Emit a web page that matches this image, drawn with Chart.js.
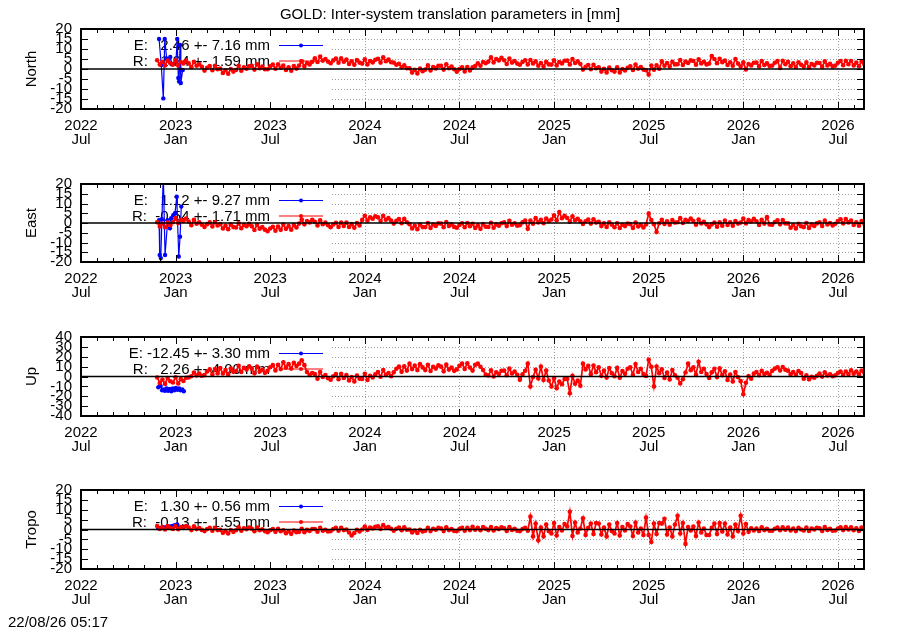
<!DOCTYPE html>
<html><head><meta charset="utf-8">
<script src="https://cdn.jsdelivr.net/npm/chart.js@4/dist/chart.umd.min.js"></script>
<style>
html,body{margin:0;padding:0;background:#fff;}
#wrap{position:relative;width:900px;height:630px;overflow:hidden;background:#fff;}
#wrap canvas{position:absolute;left:0;top:0;}
#stamp{position:absolute;left:8px;top:613px;font:15px "Liberation Sans",Arial,sans-serif;color:#000;white-space:pre;}
</style></head><body>
<div id="wrap">
<canvas id="c0" width="900" height="630"></canvas>
<canvas id="c1" width="900" height="630"></canvas>
<canvas id="c2" width="900" height="630"></canvas>
<canvas id="c3" width="900" height="630"></canvas>
<div id="stamp"></div>
</div>
<script>
// ---------- text ----------
const titleText = 'GOLD: Inter-system translation parameters in [mm]';
const stampText = '22/08/26 05:17';
const panelNames = ['North', 'East', 'Up', 'Tropo'];

// ---------- x axis (months since 2022 Jul) ----------
const xTickMonths = [0, 6, 12, 18, 24, 30, 36, 42, 48];
const xTickLabels = [['2022','Jul'],['2023','Jan'],['2023','Jul'],['2024','Jan'],['2024','Jul'],['2025','Jan'],['2025','Jul'],['2026','Jan'],['2026','Jul']];
const xMaxMonth = 49.65;
const xMinorStep = 1;

// ---------- y axes ----------
const yLimits = [20, 20, 40, 20];
const yStepSizes = [5, 5, 10, 5];

// ---------- legend statistics ----------
const legendE = [[2.46, 7.16], [1.12, 9.27], [-12.45, 3.30], [1.30, 0.56]];
const legendR = [[1.94, 1.59], [-0.54, 1.71], [2.26, 4.00], [-0.13, 1.55]];

// ---------- R series (regular sampling: start month + step) ----------
const rStartMonth = 4.83;
const rStepMonth = 1 / 6;

const northR = [
4.4,2.2,3.6,1.8,4.2,2.9, 2.2,4.3,1.8,3.5,2.8,4.1, 2.8,0.9,3.6,1.6,2.4,1.1, -0.8,0.6,1.5,-0.6,1.6,-0.1,
0.2,-2.0,-0.6,-2.4,0.0,-1.3, -0.5,1.6,-0.9,0.8,0.1,1.4, 1.6,-0.3,2.4,0.4,1.2,-0.1, -0.1,1.3,2.2,0.1,2.3,0.6,
1.7,-0.5,0.9,-0.9,1.5,0.2, 1.7,3.8,1.3,3.0,2.3,3.6, 5.4,3.5,6.2,4.2,5.0,3.7, 2.9,4.3,5.2,3.1,5.3,3.6,
4.7,2.5,3.9,2.1,4.5,3.2, 2.7,4.8,2.3,4.0,3.3,4.6, 5.1,3.2,5.9,3.9,4.7,3.4, 3.2,2.1,2.6,0.9,1.8,0.4,
0.4,-1.8,-0.4,-2.2,0.2,-1.1, -0.3,1.8,-0.7,1.0,0.3,1.6, 1.6,-0.3,2.4,0.4,1.2,-0.1, -1.4,0.0,0.9,-1.2,1.0,-0.7,
0.8,1.5,2.9,1.6,3.5,2.9, 3.7,5.8,3.3,5.0,4.3,5.6, 4.4,2.5,5.2,3.2,4.0,2.7, 2.1,3.5,4.4,2.3,4.5,2.8,
3.8,1.6,3.0,1.2,3.6,2.3, 2.2,4.3,1.8,3.5,2.8,4.1, 4.2,2.3,5.0,3.0,3.8,2.5, -0.3,1.1,2.0,-0.1,2.1,0.4,
0.9,-1.3,0.1,-1.7,0.7,-0.6, -1.3,0.8,-1.7,0.0,-0.7,0.6, 1.4,-0.5,2.2,0.2,1.0,-0.3, -0.6,-2.8,1.7,-0.4,1.8,0.1,
3.8,1.6,3.0,1.2,3.6,2.3, 2.4,4.5,2.0,3.7,3.0,4.3, 4.0,2.1,4.8,2.8,3.6,2.3, 2.7,6.5,5.0,2.9,5.1,3.4,
4.2,2.0,3.4,1.6,5.0,2.7, 1.2,3.3,-0.2,2.5,1.8,3.1, 3.2,1.3,4.0,2.0,2.8,1.5, 1.7,3.1,4.0,0.5,4.1,2.4,
3.6,1.4,2.8,1.0,3.4,2.1, 1.2,3.3,0.8,2.5,1.8,3.1, 3.0,1.1,3.8,1.8,2.6,1.3, 1.7,3.1,4.0,1.9,4.1,2.4,
4.0,1.8,3.2,1.4,3.8,2.5
];

const eastR = [
0.4,-1.8,-0.4,-2.2,0.2,-1.1, 0.4,2.5,0.0,1.7,1.0,2.3, 0.8,-1.1,1.6,-0.4,0.4,-0.9, -2.0,-0.6,0.3,-1.8,0.4,-1.3,
-0.6,-2.8,-1.4,-3.2,-0.8,-2.1, -2.3,-0.2,-2.7,-1.0,-1.7,-0.4, -1.7,-3.6,-0.9,-2.9,-2.1,-3.4, -4.2,-2.8,-1.9,-4.0,-1.8,-3.5,
-0.8,-3.0,-1.6,-3.4,-1.0,-2.3, -0.3,1.8,-0.7,1.0,0.3,1.6, 0.6,-1.3,1.4,-0.6,0.2,-1.1, -2.2,-0.8,0.1,-2.0,0.2,-1.5,
0.2,-2.0,-0.6,-2.4,0.0,-1.3, 1.6,3.7,1.2,2.9,2.2,3.5, 2.9,1.0,3.7,1.7,2.5,1.2, -0.3,1.1,2.0,-0.1,2.1,0.4,
-0.6,-2.8,-1.4,-3.2,-0.8,-2.1, -2.1,0.0,-2.5,-0.8,-1.5,-0.2, -0.3,-2.2,0.5,-1.5,-0.7,-2.0, -2.4,-1.0,-0.1,-2.2,0.0,-1.7,
-0.4,-2.6,-1.2,-3.0,-0.6,-1.9, -2.0,0.1,-2.4,-0.7,-1.4,-0.1, 0.3,-1.6,1.1,-0.9,-0.1,-1.4, -1.1,0.3,1.2,-3.0,1.3,-0.4,
2.5,0.3,1.7,-0.1,2.3,1.0, 1.8,3.9,1.4,5.6,2.4,3.7, 2.6,0.7,3.4,1.4,2.2,0.9, -0.5,0.9,1.8,-0.3,1.9,0.2,
0.6,-1.6,-0.2,-2.0,0.4,-0.9, -2.2,-0.1,-2.6,-0.9,-1.6,-0.3, -0.6,-2.5,0.2,-1.8,-1.0,-2.3, -0.8,4.8,1.5,-0.6,-4.6,-0.1,
1.7,-0.5,0.9,-0.9,1.5,0.2, 0.4,2.5,0.0,1.7,1.0,2.3, 1.0,-0.9,1.8,-0.2,0.6,-0.7, -2.1,-0.7,0.2,-1.9,0.3,-1.4,
1.2,-1.0,0.4,-1.4,1.0,-0.3, 0.2,2.3,-0.2,1.5,0.8,2.1, 0.9,-1.0,1.7,-0.3,3.0,-0.8, -0.9,0.5,1.4,-0.7,1.5,-0.2,
-0.2,-2.4,-1.0,-2.8,-0.4,-1.7, -2.1,0.0,-2.5,-0.8,-1.5,-0.2, 0.4,-1.5,1.2,-0.8,0.0,-1.3, -0.4,1.0,1.9,-0.2,2.0,0.3,
1.2,-1.0,0.4,-1.4,1.0,-0.3
];

const upR = [
-1.0,-6.5,-3.0,-7.5,-1.5,-4.8, -6.0,-0.7,-7.0,-2.7,-4.5,-1.2, -1.0,0.2,4.0,1.0,3.0,0.7, 1.4,5.0,7.2,1.9,7.5,3.2,
8.5,3.0,6.5,2.0,8.0,4.7, 5.5,10.8,4.5,8.8,7.0,10.3, 8.0,3.2,10.0,5.0,7.0,3.7, 5.7,9.3,11.5,6.2,11.8,7.5,
14.5,9.0,12.5,8.0,14.0,10.7, 13.0,16.5,11.5,4.5,1.5,3.5, 2.5,-2.3,4.5,-0.5,1.5,-1.8, -3.3,0.3,2.5,-2.8,2.8,-1.5,
1.5,-4.0,-0.5,-5.0,1.0,-2.3, -2.5,2.8,-3.5,0.8,-1.0,2.3, 4.5,-0.3,6.5,1.5,3.5,0.2, 4.2,7.8,10.0,4.7,10.3,6.0,
13.0,7.5,11.0,6.5,12.5,9.2, 6.5,11.8,5.5,9.8,8.0,11.3, 10.0,5.2,12.0,7.0,9.0,5.7, 7.2,10.8,13.0,7.7,13.3,9.0,
6.0,11.8,13.0,9.8,6.5,2.0, 1.0,6.3,0.0,4.3,2.5,5.8, 6.0,1.2,8.0,3.0,5.0,1.7, -3.4,2.2,5.8,13.0,-10.0,-0.6,
6.8,-2.0,10.0,-3.6,6.0,-4.0, -10.2,-1.8,-11.8,-5.0,-7.8,-2.6, -2.6,-17.0,0.6,-7.4,-4.2,-9.4, 13.0,7.2,10.8,2.4,11.2,4.4,
9.3,0.5,6.1,-1.1,8.5,3.3, 0.3,8.7,-1.3,5.5,2.7,7.9, 9.4,1.8,12.6,4.6,7.8,2.6, 0.6,17.0,9.8,-10.0,10.2,3.4,
7.3,-1.5,4.1,-3.1,6.5,1.3, -1.2,-7.0,-2.8,4.0,13.0,6.4, 9.4,1.8,15.0,4.6,7.8,2.6, -1.4,4.2,7.8,-0.6,8.2,1.4,
5.3,-3.5,2.1,-5.1,4.5,-0.7, -4.7,-18.0,-6.3,0.5,-2.3,2.9, 4.5,1.4,5.7,2.5,3.8,1.7, 5.7,8.0,9.4,6.1,9.6,6.9,
5.9,2.4,4.6,1.8,5.6,3.5, -2.3,1.1,-2.9,-0.2,-1.3,0.8, 3.0,-0.1,4.2,1.0,2.3,0.2, 1.2,3.5,4.9,1.6,5.1,2.4,
6.4,2.9,5.1,2.3,6.1,4.0
];

const tropoR = [
1.8,0.3,1.3,0.0,1.7,0.8, 0.3,1.8,0.1,1.3,0.8,1.7, 1.0,-0.3,1.6,0.2,0.7,-0.2, -0.8,0.2,0.8,-0.6,0.9,-0.3,
-0.2,-1.7,-0.7,-2.0,-0.3,-1.2, -0.4,1.1,-0.6,0.6,0.1,1.0, 0.4,-0.9,1.0,-0.4,0.1,-0.8, -1.4,-0.4,0.2,-1.2,0.3,-0.9,
-0.4,-1.9,-0.9,-2.2,-0.5,-1.4, -1.2,0.3,-1.4,-0.2,-0.7,0.2, 0.2,-1.1,0.8,-0.6,-0.1,-1.0, -0.8,0.2,0.8,-0.6,0.9,-0.3,
0.0,-1.5,-3.0,-1.8,-0.1,-1.0, 0.0,1.5,-0.2,1.0,0.5,1.4, 1.6,0.3,2.2,0.8,1.3,0.4, -0.6,0.4,1.0,-0.4,1.1,-0.1,
0.0,-1.5,-0.5,-1.8,-0.1,-1.0, -0.6,0.9,-0.8,0.4,-0.1,0.8, 0.5,-0.8,1.1,-0.3,0.2,-0.7, -0.8,0.2,0.8,-0.6,0.9,-0.3,
1.4,-0.1,0.9,-0.4,1.3,0.4, -0.3,1.2,-0.5,0.7,0.2,1.1, 0.6,-0.7,1.2,-0.2,0.3,-0.6, -0.8,0.2,0.8,-0.6,6.5,-3.5,
3.0,-5.5,1.0,-3.5,2.5,-0.8, -2.0,3.3,-3.0,1.3,-0.5,2.8, 1.5,9.0,-3.3,3.5,-1.5,0.5, 5.7,-2.8,0.8,3.0,-2.3,3.3,
3.0,-2.5,1.0,-3.5,2.5,-0.8, -2.0,3.3,-3.0,1.3,-0.5,2.8, 1.5,-3.3,3.5,-1.5,0.5,-2.8, 6.0,-2.8,-6.3,3.0,-2.3,3.3,
3.0,5.4,-2.5,1.0,-3.5,2.5, 7.0,-2.0,3.3,-7.3,1.3,-0.5, 1.5,-3.3,3.5,-1.5,0.5,-2.8, -2.8,0.8,3.0,-2.3,3.3,-1.0,
3.0,-2.5,1.0,-3.5,2.5,-0.8, 7.0,-2.0,2.8,-1.2,0.6,-0.5, 0.5,-0.7,1.1,-0.3,0.3,-0.6, -0.6,0.4,1.0,-0.4,1.1,-0.1,
1.0,-0.5,0.5,-0.8,0.9,0.0, -0.5,1.0,-0.7,0.5,0.0,0.9, 0.6,-0.7,1.2,-0.2,0.3,-0.6, -0.5,0.5,1.1,-0.3,1.2,0.0,
1.1,-0.4,0.6,-0.7,1.0,0.1
];

// ---------- E series (irregular sampling) ----------
const northEx = [4.95, 5.09, 5.22, 5.31, 5.43, 5.55, 5.66, 5.78, 5.90, 6.02, 6.10, 6.17, 6.22, 6.28, 6.33, 6.45];
const northEy = [15, 2, -14.7, 15, 5.3, 4.5, 6, 2.3, 2.8, 3.5, 15, -4.5, -6.3, 12, -7, -0.5];
const eastEx = [4.95, 4.99, 5.06, 5.13, 5.22, 5.33, 5.50, 5.64, 5.72, 5.85, 5.96, 6.07, 6.20, 6.28, 6.36];
const eastEy = [1.5, -16.4, -18, 1.9, 25, -16.4, 1.5, -2.7, 2.4, 4, 5, 13.5, -17.2, -7, 8.4];
const upEx = [4.90, 4.97, 5.05, 5.14, 5.22, 5.32, 5.42, 5.52, 5.62, 5.72, 5.82, 5.92, 6.02, 6.12, 6.22, 6.32, 6.42, 6.52];
const upEy = [-11, -10, -9.5, -14, -13, -14.5, -12, -14.5, -12.5, -15, -12, -14, -11.5, -13.5, -12, -14, -13, -15];
const tropoEx = [4.90, 5.05, 5.20, 5.35, 5.50, 5.65, 5.80, 5.95, 6.10];
const tropoEy = [0.6, 0.8, 1.0, 1.1, 1.3, 1.5, 1.8, 2.2, 2.6];

const rSeries = [northR, eastR, upR, tropoR];
const eSeriesX = [northEx, eastEx, upEx, tropoEx];
const eSeriesY = [northEy, eastEy, upEy, tropoEy];

// ---------- layout (pixels) ----------
const panelTops = [29, 184, 337, 490];
const panelBottoms = [109, 262, 416, 569];
const xAxisBox = 40, leftAxisBox = 81, rightAxisBox = 36;
const keyRight = 332, keyTextRight = 270, keySampleL = 279, keySampleR = 323;
const FONT = '"Liberation Sans", Arial, Helvetica, sans-serif';
const FS = 15;

document.getElementById('stamp').textContent = stampText;
Chart.defaults.font.family = FONT;
Chart.defaults.font.size = FS;
Chart.defaults.color = '#000';

function fmtNum(v, w) { let s = v.toFixed(2); while (s.length < w) s = ' ' + s; return s; }
function keyText(tag, st) { return tag + ':' + fmtNum(st[0], 7) + ' +- ' + st[1].toFixed(2) + ' mm'; }

function makePlugin(k) {
  return {
    id: 'panelDeco' + k,
    beforeDatasetsDraw(chart) {
      const ctx = chart.ctx, a = chart.chartArea, xs = chart.scales.x, ys = chart.scales.y;
      ctx.save();
      ctx.strokeStyle = '#a0a0a0'; ctx.lineWidth = 1; ctx.setLineDash([1, 2]);
      ctx.beginPath();
      xTickMonths.forEach(v => {
        const px = Math.round(xs.getPixelForValue(v)) + 0.5;
        if (px > keyRight && px < a.right - 2) { ctx.moveTo(px, a.top); ctx.lineTo(px, a.bottom); }
      });
      ys.ticks.forEach(t => {
        if (t.value === 0 || Math.abs(t.value) >= yLimits[k]) return;
        const py = Math.round(ys.getPixelForValue(t.value)) + 0.5;
        ctx.moveTo(keyRight, py); ctx.lineTo(a.right, py);
      });
      ctx.stroke();
      ctx.setLineDash([]);
      ctx.font = FS + 'px ' + FONT; ctx.fillStyle = '#000';
      ctx.textAlign = 'right'; ctx.textBaseline = 'middle';
      const rows = [['E', legendE[k], '#0000ff'], ['R', legendR[k], '#ff0000']];
      rows.forEach((r, i) => {
        const ty = a.top + 16 + i * 15.5;
        ctx.fillStyle = '#000';
        ctx.fillText(keyText(r[0], r[1]), keyTextRight, ty + 1);
        ctx.strokeStyle = r[2]; ctx.fillStyle = r[2]; ctx.lineWidth = 1;
        ctx.beginPath(); ctx.moveTo(keySampleL, ty + 0.5); ctx.lineTo(keySampleR, ty + 0.5); ctx.stroke();
        ctx.beginPath(); ctx.arc((keySampleL + keySampleR) / 2, ty + 0.5, 2, 0, Math.PI * 2); ctx.fill();
      });
      ctx.restore();
    },
    afterDatasetsDraw(chart) {
      const ctx = chart.ctx, a = chart.chartArea, xs = chart.scales.x, ys = chart.scales.y;
      ctx.save();
      const y0 = ys.getPixelForValue(0);
      ctx.strokeStyle = '#000'; ctx.lineWidth = 1.5;
      ctx.beginPath(); ctx.moveTo(a.left, y0); ctx.lineTo(a.right, y0); ctx.stroke();
      ctx.lineWidth = 1; ctx.strokeStyle = '#000';
      ctx.beginPath();
      for (let m = 0; m <= xMaxMonth; m += xMinorStep) {
        const px = Math.round(xs.getPixelForValue(m)) + 0.5;
        const len = xTickMonths.includes(m) ? 7 : 4;
        ctx.moveTo(px, a.bottom); ctx.lineTo(px, a.bottom - len);
        ctx.moveTo(px, a.top); ctx.lineTo(px, a.top + len);
      }
      ys.ticks.forEach(t => {
        const py = Math.round(ys.getPixelForValue(t.value)) + 0.5;
        ctx.moveTo(a.left, py); ctx.lineTo(a.left + 7, py);
        ctx.moveTo(a.right, py); ctx.lineTo(a.right - 7, py);
      });
      ctx.stroke();
      ctx.lineWidth = 2; ctx.strokeStyle = '#000';
      ctx.strokeRect(a.left, a.top, a.right - a.left, a.bottom - a.top);
      ctx.restore();
    }
  };
}

for (let k = 0; k < 4; k++) {
  const rData = rSeries[k].map((v, i) => ({ x: rStartMonth + i * rStepMonth, y: v }));
  const eData = eSeriesX[k].map((xv, i) => ({ x: xv, y: eSeriesY[k][i] }));
  const lim = yLimits[k];
  new Chart(document.getElementById('c' + k), {
    type: 'line',
    data: {
      datasets: [
        { label: 'R', data: rData, borderColor: '#ff0000', backgroundColor: '#ff0000',
          pointBackgroundColor: '#ff0000', pointBorderWidth: 0, pointRadius: 2.3, borderWidth: 1.7, tension: 0 },
        { label: 'E', data: eData, borderColor: '#0000ff', backgroundColor: '#0000ff',
          pointBackgroundColor: '#0000ff', pointBorderWidth: 0, pointRadius: 2.2, borderWidth: 1.2, tension: 0 }
      ]
    },
    options: {
      responsive: false, animation: false, events: [],
      layout: { padding: { left: 0, right: 0, top: k === 0 ? 0 : panelTops[k], bottom: 630 - panelBottoms[k] - xAxisBox } },
      plugins: {
        legend: { display: false }, tooltip: { enabled: false },
        title: { display: k === 0, text: titleText, color: '#000', font: { size: FS, weight: 'normal', family: FONT }, padding: { top: 6, bottom: 5 } }
      },
      scales: {
        x: {
          type: 'linear', min: 0, max: xMaxMonth,
          afterBuildTicks: s => { s.ticks = xTickMonths.map(v => ({ value: v })); },
          ticks: { autoSkip: false, maxRotation: 0, minRotation: 0, padding: 10, color: '#000',
            font: { size: FS, lineHeight: 0.94 },
            callback: v => { const i = xTickMonths.indexOf(v); return i >= 0 ? xTickLabels[i] : ''; } },
          grid: { display: false, drawTicks: false }, border: { display: false },
          afterFit: s => { s.height = xAxisBox; }
        },
        y: {
          min: -lim, max: lim,
          ticks: { stepSize: yStepSizes[k], autoSkip: false, padding: 9, color: '#000', font: { size: FS } },
          grid: { display: false, drawTicks: false }, border: { display: false },
          title: { display: true, text: panelNames[k], color: '#000', font: { size: FS }, padding: { top: 22.5, bottom: 0 } },
          afterFit: s => { s.width = leftAxisBox; }
        },
        y2: {
          position: 'right', display: true,
          ticks: { display: false }, grid: { display: false, drawTicks: false }, border: { display: false },
          afterFit: s => { s.width = rightAxisBox; }
        }
      }
    },
    plugins: [makePlugin(k)]
  });
}
</script>
</body></html>
